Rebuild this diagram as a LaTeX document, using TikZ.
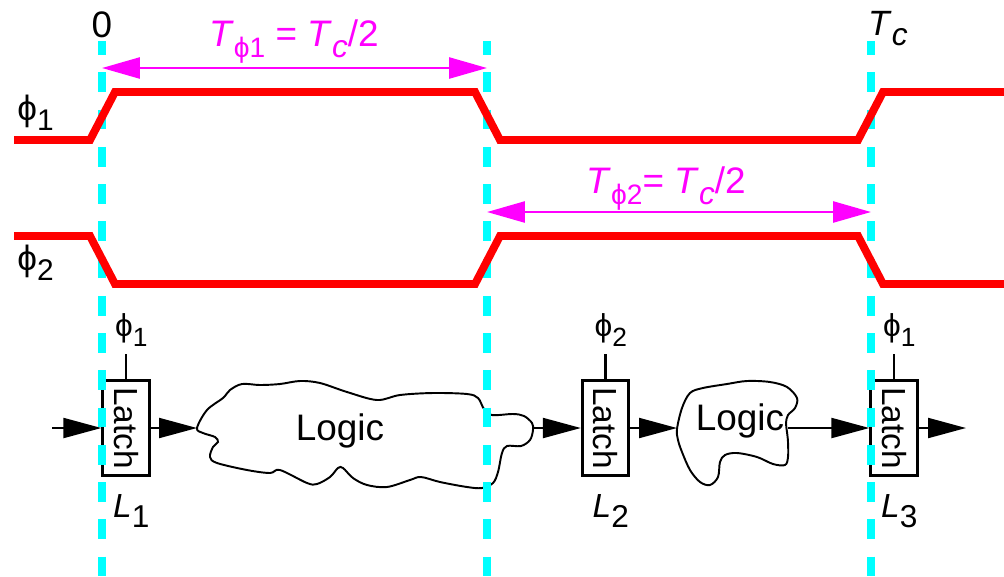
\documentclass[tikz,border=0pt]{standalone}
\usepackage{fontspec}
\setmainfont{Liberation Sans}
\usepackage{tikz}
\usetikzlibrary{positioning, arrows.meta}
\usepackage{xcolor}
\definecolor{mycyan}{RGB}{0, 255, 255}
\definecolor{myred}{RGB}{255, 0, 0}
\definecolor{mymagenta}{RGB}{255, 0, 255}
\newcommand{\lsub}[2][14]{\raisebox{-0.3em}{\fontsize{#1}{#1}\selectfont #2}}

\begin{document}
\begin{tikzpicture}[
    x=0.02cm, y=-0.02cm,
    font=\fontsize{21}{25}\selectfont,
    grid_style/.style={mycyan, line width=5pt,
      dash pattern=on 11.3pt off 9.9pt, dash phase=3.4pt},
    clk_style/.style={myred, line width=4.5pt},
    span_style/.style={mymagenta, line width=1.5pt,
      {Triangle[length=0.76cm,width=0.42cm]}-{Triangle[length=0.76cm,width=0.42cm]}},
    data_style/.style={line width=1.2pt,
      -{Triangle[length=0.76cm,width=0.4cm]}},
    latch_style/.style={draw, line width=1.6pt, minimum width=0.93cm,
      minimum height=1.89cm, inner sep=0pt, font=\fontsize{19}{19}\selectfont},
    logic_style/.style={line width=1.1pt},
    stub_style/.style={line width=1.5pt},
    lbl_style/.style={font=\fontsize{18}{20}\selectfont, inner sep=0pt}
]
    \useasboundingbox (0,0) rectangle (1004,576);

    % --- Latches ---
    \node[latch_style] (lt1) at (126,428) {\rotatebox{-90}{Latch}};
    \node[latch_style] (lt2) at (605.5,428) {\rotatebox{-90}{Latch}};
    \node[latch_style] (lt3) at (894,428) {\rotatebox{-90}{Latch}};

    \foreach \i/\ph in {1/1, 2/2, 3/1}{
      \draw[stub_style] (lt\i.north) -- ++(0,-25)
          node[above=4pt, lbl_style, xshift=3pt] (ck\i) {ϕ\lsub[15]{\ph}};
      \node[below=10pt of lt\i, lbl_style, font=\fontsize{19}{21}\selectfont,
            xshift=3pt] (nm\i) {\textit{L}\lsub[18]{\i}};
    }

    % --- Logic clouds ---
    \draw[logic_style] plot[smooth cycle, tension=0.55] coordinates {
        (197,428) (207,410) (223,398) (230,390) (242,384) (260,385)
        (280,384) (300,381) (320,383) (347,392) (377,400) (400,395)
        (433,393) (467,394) (478,398) (484,409) (492,415) (513,414)
        (524,416) (532,423) (533,430) (530,440) (521,446) (507,446)
        (502,453) (498,472) (493,483) (482,488) (467,487) (440,482)
        (421,477) (410,480) (387,487) (367,485) (353,478) (343,468)
        (338,468) (330,477) (317,484) (307,483) (280,470) (270,473)
        (247,470) (217,463) (210,457) (213,447) (218,442) (215,437)
        (203,433)};
    \node[anchor=base] (lg1) at (340,440) {Logic};

    \draw[logic_style] plot[smooth cycle, tension=0.55] coordinates {
        (677,429) (682,408) (690,393) (703,388) (727,384) (747,381)
        (770,382) (787,387) (797,398) (795,408) (788,415) (786,423)
        (787,432) (788,442) (788,457) (785,465) (773,464) (757,457)
        (737,453) (725,455) (720,462) (718,477) (710,485) (700,482)
        (690,470) (682,452) (678,440)};
    \node[anchor=base] (lg2) at (740,430) {Logic};

    % --- Data path ---
    \coordinate (din) at (52,428);
    \coordinate (dout) at (966,428);
    \coordinate (lg1w) at (197,428);
    \coordinate (lg1e) at (533,428);
    \coordinate (lg2w) at (677,428);
    \coordinate (lg2e) at (788,428);
    \draw[data_style] (din) -- (lt1.west);
    \draw[data_style] (lt1.east) -- (lg1w);
    \draw[data_style] (lg1e) -- (lt2.west);
    \draw[data_style] (lt2.east) -- (lg2w);
    \draw[data_style] (lg2e) -- (lt3.west);
    \draw[data_style] (lt3.east) -- (dout);

    % --- Time marks ---
    \foreach \x/\n in {102/0, 487/1, 871/2}{
      \coordinate (t\n) at (\x,41);
      \coordinate (b\n) at (\x,576);
      \draw[grid_style] (t\n) -- (b\n);
    }

    % --- Clocks ---
    \draw[clk_style] (14,140) -- (90,140) -- (115,92) -- (475,92)
        -- (500,140) -- (858,140) -- (883,92) -- (1004,92);
    \draw[clk_style] (14,236) -- (90,236) -- (115,284) -- (475,284)
        -- (500,236) -- (858,236) -- (883,284) -- (1004,284);
    \node[lbl_style, anchor=base west, font=\fontsize{20}{22}\selectfont]
        (ph1) at (17,120) {ϕ\lsub[17]{1}};
    \node[lbl_style, anchor=base west, font=\fontsize{20}{22}\selectfont]
        (ph2) at (17,270) {ϕ\lsub[17]{2}};

    % --- Phase widths ---
    \coordinate (s1l) at (102,68);
    \coordinate (s1r) at (487,68);
    \coordinate (s2l) at (487,212);
    \coordinate (s2r) at (871,212);
    \draw[span_style] (s1l) -- (s1r);
    \draw[span_style] (s2l) -- (s2r);
    \node[anchor=base, mymagenta] (tp1) at (294,46)
        {\textit{T}\lsub[16]{ϕ1} = \textit{T}\lsub[18]{\textit{c}}/2};
    \node[anchor=base, mymagenta] (tp2) at (666,193)
        {\textit{T}\lsub[16]{ϕ2}= \textit{T}\lsub[18]{\textit{c}}/2};

    \node[anchor=base] (zero) at (102,37) {0};
    \node[anchor=base west, font=\fontsize{20}{24}\selectfont] (tc) at (862,35)
        {\textit{T}\lsub[18]{\textit{c}}};

\end{tikzpicture}
\end{document}
